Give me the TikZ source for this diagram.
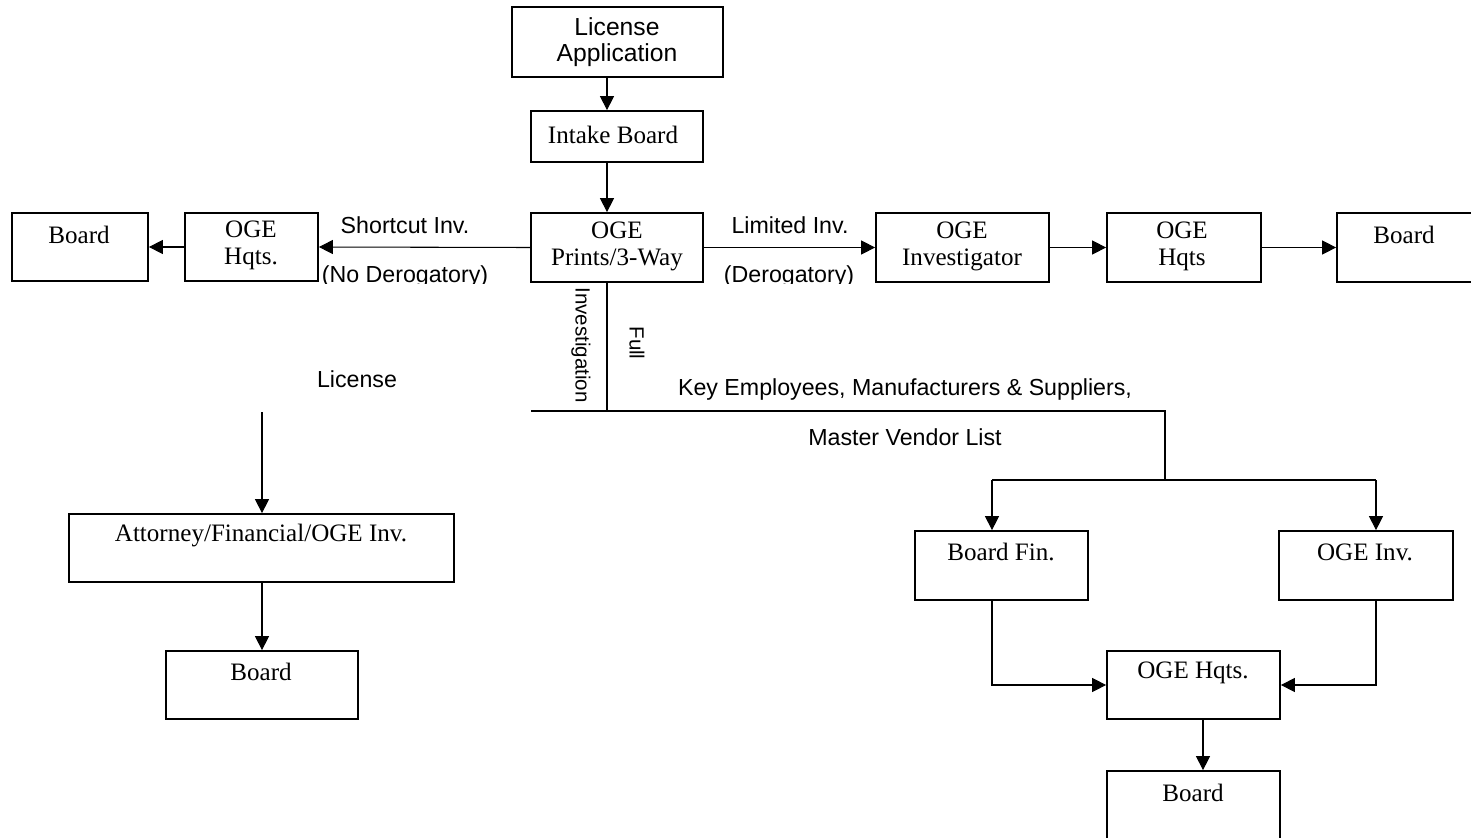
\documentclass[tikz,border=0pt]{standalone}
\usepackage{fontspec}
\setmainfont{Liberation Serif}
\newfontfamily\sansf{Liberation Sans}
\usetikzlibrary{arrows.meta,fit}
\tikzset{
  box/.style={draw, line width=1.3pt, inner sep=0pt},
  st/.style={font=\fontsize{18.8}{20.3}\selectfont, inner sep=0pt, align=center},
  ss/.style={font=\sansf\fontsize{17.4}{20}\selectfont, inner sep=0pt, align=center},
  ssbig/.style={font=\sansf\fontsize{18.5}{20}\selectfont, inner sep=0pt, align=center},
  ssrot/.style={font=\sansf\fontsize{15.4}{18}\selectfont, inner sep=0pt, rotate=-90},
  ln/.style={line width=0.8pt},
  arr/.style={line width=0.8pt, -{Triangle[length=10.5pt,width=10.5pt]}}
}
\begin{document}
\begin{tikzpicture}[x=0.75pt,y=-0.75pt]
\useasboundingbox (0,0) rectangle (1471,838);
\clip (0,0) rectangle (1471,838);
% boxes
\node[box, fit={(512,7) (723,77)}] (lic) {};
\node[box, fit={(531,111) (703,162)}] (intake) {};
\node[box, fit={(531,213) (703,282)}] (prints) {};
\node[box, fit={(185,213) (318,281)}] (hqa) {};
\node[box, fit={(12,213) (148,281)}] (boarda) {};
\node[box, fit={(876,213) (1049,282)}] (inv) {};
\node[box, fit={(1107,213) (1261,282)}] (hqb) {};
\node[box, fit={(1337,213) (1474,282)}] (boardb) {};
\node[box, fit={(69,514) (454,582)}] (atty) {};
\node[box, fit={(166,651) (358,719)}] (boardc) {};
\node[box, fit={(915,531) (1088,600)}] (bfin) {};
\node[box, fit={(1279,531) (1453,600)}] (oinv) {};
\node[box, fit={(1107,651) (1280,719)}] (hqc) {};
\node[box, fit={(1107,771) (1280,845)}] (boardd) {};
% box texts
\node[ssbig] (lict) at (617,42) {License\\Application};
\node[st] (intaket) at (613,135) {Intake Board};
\node[st] (printst) at (617,246) {OGE\\Prints/3-Way};
\node[st] (hqat) at (251,245) {OGE\\Hqts.};
\node[st] (boardat) at (79,235) {Board};
\node[st] (invt) at (962,246) {OGE\\Investigator};
\node[st] (hqbt) at (1182,246) {OGE\\Hqts};
\node[st] (boardbt) at (1404,235) {Board};
\node[st] (attyt) at (261,536) {Attorney/Financial/OGE Inv.};
\node[st] (boardct) at (261,672) {Board};
\node[st] (bfint) at (1001,552) {Board Fin.};
\node[st] (oinvt) at (1365,552) {OGE Inv.};
\node[st] (hqct) at (1193,673) {OGE Hqts.};
\node[st] (boarddt) at (1193,793) {Board};
% labels
\node[ss] (shortl) at (405,225) {Shortcut Inv.};
\node[ss] (limitl) at (790,225) {Limited Inv.};
\begin{scope}
\clip (300,240) rectangle (900,283);
\node[ss, anchor=base] (nodero) at (405,282) {(No Derogatory)};
\node[ss, anchor=base] (dero) at (789,282) {(Derogatory)};
\end{scope}
\node[ssrot] (fulll) at (637,343) {Full};
\node[ssrot] (invl) at (581,345) {Investigation};
\node[ss] (keyl) at (905,389) {Key Employees, Manufacturers \& Suppliers,};
\node[ss] (mvl) at (905,437) {Master Vendor List};
\node[ss] (licl) at (357,379) {License};
% coordinates
\coordinate (cx) at (607,0);
\coordinate (fl) at (531,411);
\coordinate (fr) at (1165,411);
\coordinate (fb) at (1165,480);
\coordinate (bl) at (992,480);
\coordinate (br) at (1376,480);
\coordinate (hx) at (1203,0);
\coordinate (lictop) at (262,412);
% connectors
\draw[arr] (lic.south -| cx) -- (intake.north -| cx);
\draw[arr] (intake.south -| cx) -- (prints.north -| cx);
\draw[arr] (prints.west) -- (hqa.east);
\draw[arr] (hqa.west) -- (boarda.east);
\draw[arr] (prints.east) -- (inv.west);
\draw[arr] (inv.east) -- (hqb.west);
\draw[arr] (hqb.east) -- (boardb.west);
\draw[ln] (prints.south -| cx) -- (cx |- fl);
\draw[ln] (fl) -- (fr) -- (fb);
\draw[ln] (bl) -- (br);
\draw[arr] (bl) -- (bfin.north -| bl);
\draw[arr] (br) -- (oinv.north -| br);
\draw[arr] (bfin.south -| bl) |- (hqc.west);
\draw[arr] (oinv.south -| br) |- (hqc.east);
\draw[arr] (hqc.south -| hx) -- (boardd.north -| hx);
\draw[arr] (lictop) -- (atty.north -| lictop);
\draw[arr] (atty.south -| lictop) -- (boardc.north -| lictop);
\end{tikzpicture}
\end{document}
